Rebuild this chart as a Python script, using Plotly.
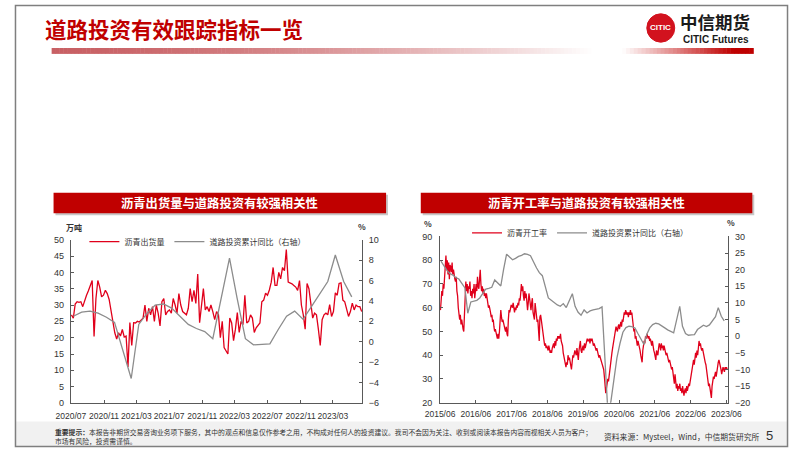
import plotly.graph_objects as go
import pandas as pd

W, H = 802, 452
def px(x): return x / W
def py(y): return 1 - y / H

RED = "#e0001b"
GRAY = "#8c8c8c"
TITLE_RED = "#c00000"
FONT = "Liberation Sans, Noto Sans CJK SC, sans-serif"
CJK = "Noto Sans CJK SC, Liberation Sans, sans-serif"

# ---------------- Left chart data ----------------
ship_start = "2020-07-03"   # weekly asphalt shipments (万吨)
ship_vals = [27, 26, 30.3, 31, 30.8, 31, 29.5, 31.5, 33, 34.4,
             36, 37.5, 20.4, 32, 37.5, 35.5, 32.5, 33, 34.5, 33.5,
             31.7, 28, 25, 21.5, 19.6, 21.5, 20.5, 22.5, 20.2, 20.5,
             11, 24.6, 17.6, 24.6, 24.5, 25, 24.8, 25.5, 26, 30,
             25, 29, 27, 29.5, 25, 30, 27.5, 23.6, 31, 32,
             27, 28, 28.5, 27.5, 32, 30, 27.5, 33.5, 30, 28,
             27.5, 27, 29, 35, 31, 34.5, 30.5, 39.5, 24.6, 30,
             35, 28.5, 29.5, 28, 30, 28, 25.5, 28, 27, 20,
             25, 17, 16, 15, 26, 24.5, 19.1, 22.6, 27.7, 21.6,
             25, 24, 33, 24.5, 25, 27, 26, 21.6, 23, 23.6,
             24.5, 31, 31.5, 33.6, 33, 34.6, 37, 41.5, 36, 36,
             40, 38, 41.5, 40.5, 47, 37, 36.8, 36.5, 36, 35.5,
             34.5, 37.5, 30, 27, 22.6, 36.6, 35, 30, 26, 27.5,
             27, 22.6, 17.6, 25.5, 27, 27.5, 27, 30.1, 26.5, 28,
             33.7, 33, 36.6, 36.8, 31.5, 31, 29, 26.5, 28, 30.6,
             28.5, 30, 29.5, 29.5, 28]

road_l_months = ["2020-07", "2020-08", "2020-09", "2020-10", "2020-11", "2020-12",
                 "2021-02", "2021-03", "2021-04", "2021-05", "2021-06", "2021-07",
                 "2021-08", "2021-09", "2021-10", "2021-11", "2021-12",
                 "2022-02", "2022-03", "2022-04", "2022-05", "2022-06", "2022-07",
                 "2022-08", "2022-09", "2022-10", "2022-11", "2022-12",
                 "2023-02", "2023-03", "2023-04", "2023-05"]
road_l_vals = [2.5, 2.9, 3.0, 2.8, 2.4, 1.9,
               -3.6, 1.7, 2.8, 3.6, 3.7, 3.3,
               2.5, 1.7, 1.3, 1.0, 0.3,
               8.2, 4.3, 0.3, -0.3, -0.25, -0.2,
               1.2, 2.5, 3.0, 2.2, 3.4,
               5.9, 8.5, 5.9, 4.4]

left_ticks_y = list(range(0, 51, 5))
left_ticks_y2 = list(range(-6, 11, 2))

# ---------------- Right chart data ----------------
rate_start = "2015-06-05"   # weekly asphalt operating rate (%)
rate_2015 = [59, 64, 67, 65, 70, 68, 75, 78, 82, 76, 80, 74, 79,
             72, 78, 77, 75, 79, 74, 76, 73, 72, 71, 73, 67, 65,
             60, 58, 55, 57, 53, 55, 52, 51, 50, 60, 64, 71, 67,
             70, 66, 69, 68, 71, 65, 67, 64, 68, 66, 70, 64, 69]
rate_2016 = [70, 67, 73, 69, 68, 72, 76, 70, 67, 69, 66, 68, 65,
             66, 64, 66, 63, 62, 60, 61, 58, 58, 56, 57, 54, 55,
             52, 50, 51, 49, 48, 47, 49, 47, 50, 55, 59, 56, 54,
             55, 53, 52, 51, 50, 52, 49, 48, 55, 59, 58, 60, 61]
rate_2017 = [61, 60, 62, 59, 58, 60, 59, 61, 60, 62, 61, 64, 63,
             66, 70, 67, 69, 65, 63, 67, 64, 66, 63, 59, 62, 66,
             64, 60, 59, 62, 64, 58, 56, 55, 62, 60, 57, 54, 55,
             48, 46, 56, 57, 55, 52, 50, 48, 46, 44, 45, 43, 44]
rate_2018 = [43, 42, 44, 42, 41, 42, 41, 43, 44, 45, 43, 46, 44,
             47, 46, 48, 47, 48, 47, 49, 46, 45, 44, 41, 39, 38,
             36, 35, 37, 36, 40, 38, 39, 37, 36, 34, 37, 40, 39,
             40, 42, 41, 40, 43, 41, 38, 42, 45, 46, 42, 41, 43]
rate_2019 = [44, 42, 45, 43, 44, 45, 47, 46, 46, 47, 45, 47, 46,
             47, 46, 44, 45, 44, 43, 42, 43, 41, 40, 39, 40, 38,
             38, 37, 36, 35, 34, 31, 27, 24, 26, 28, 30, 29, 32,
             34, 37, 39, 41, 43, 45, 47, 49, 50, 52, 51, 50, 52]
rate_2020 = [53, 51, 52, 54, 52, 55, 54, 57, 58, 57, 59, 58, 57,
             58, 56, 58, 57, 59, 57, 58, 55, 52, 50, 51, 47, 48,
             46, 44, 46, 45, 43, 42, 40, 39, 37, 42, 44, 46, 45,
             48, 47, 49, 48, 47, 48, 46, 47, 45, 44, 46, 43, 42]
rate_2021 = [41, 40, 38, 42, 41, 40, 43, 45, 44, 42, 45, 43, 44,
             42, 44, 43, 41, 40, 41, 39, 38, 37, 38, 36, 35, 34,
             35, 32, 30, 28, 32, 27, 26, 28, 25, 27, 26, 28, 25,
             26, 24, 27, 25, 23, 25, 26, 24, 27, 25, 26, 28, 27]
rate_2022 = [29, 32, 34, 36, 37, 38, 36, 39, 41, 39, 42, 40, 44,
             46, 44, 45, 43, 42, 43, 41, 40, 38, 37, 36, 33, 31,
             29, 27, 28, 26, 24, 22, 27, 30, 31, 30, 32, 33, 31,
             34, 35, 37, 38, 37, 36, 34, 32, 33, 35, 34, 33, 35,
             34, 35, 34]
rate_vals = (rate_2015 + rate_2016 + rate_2017 + rate_2018 +
             rate_2019 + rate_2020 + rate_2021 + rate_2022)

road_r_months = ["2015-06", "2015-07", "2015-08", "2015-09", "2015-10", "2015-11", "2015-12",
                 "2016-02", "2016-03", "2016-04", "2016-05", "2016-06", "2016-07", "2016-08",
                 "2016-09", "2016-10", "2016-11", "2016-12",
                 "2017-02", "2017-03", "2017-04", "2017-05", "2017-06", "2017-07", "2017-08",
                 "2017-09", "2017-10", "2017-11", "2017-12",
                 "2018-02", "2018-03", "2018-04", "2018-05", "2018-06", "2018-07", "2018-08",
                 "2018-09", "2018-10", "2018-11", "2018-12",
                 "2019-02", "2019-03", "2019-04", "2019-05", "2019-06", "2019-07", "2019-08",
                 "2019-09", "2019-10", "2019-11", "2019-12",
                 "2020-02", "2020-03", "2020-04", "2020-05", "2020-06", "2020-07", "2020-08",
                 "2020-09", "2020-10", "2020-11", "2020-12",
                 "2021-02", "2021-03", "2021-04", "2021-05", "2021-06", "2021-07", "2021-08",
                 "2021-09", "2021-10", "2021-11", "2021-12",
                 "2022-02", "2022-03", "2022-04", "2022-05", "2022-06", "2022-07", "2022-08",
                 "2022-09", "2022-10", "2022-11", "2022-12",
                 "2023-02", "2023-03", "2023-04", "2023-05"]
road_r_vals = [22.6, 21.2, 19.8, 18.8, 18.4, 17.6, 17.2,
               14.5, 6.9, 10.3, 10.5, 10.8, 11.5, 13.0,
               14.2, 14.4, 14.7, 16.9,
               15.1, 20.0, 24.7, 23.8, 23.0, 23.4, 24.0,
               24.3, 24.8, 24.6, 24.2,
               20.5, 19.1, 18.2, 14.5, 11.5, 10.8, 10.0,
               9.4, 9.0, 9.8, 8.6,
               12.8, 9.0, 7.2, 6.3, 7.9, 7.0, 7.6,
               7.9, 8.0, 8.3, 8.8,
               -24.0, -19.5, -12.5, -6.5, -2.2, 1.2, 2.6,
               3.0, 2.9, 2.5, 0.8,
               -2.5, 0.5, 2.5, 3.5, 3.9, 3.7, 3.2,
               2.5, 1.9, 1.4, 1.0,
               9.0, 3.0, 0.8, 0.3, 0.4, 0.5, 2.0,
               2.8, 3.3, 2.9, 3.4,
               5.9, 8.6, 6.0, 4.6]

right_ticks_y = list(range(20, 91, 10))
right_ticks_y2 = list(range(-20, 31, 5))

# ---------------- build dates ----------------
ship_dates = pd.date_range(ship_start, periods=len(ship_vals), freq="7D")
rate_dates = pd.date_range(rate_start, periods=len(rate_vals), freq="7D")
road_l_dates = [m + "-10" for m in road_l_months]
road_r_dates = [m + "-10" for m in road_r_months]

fig = go.Figure()
fig.add_trace(go.Scatter(x=ship_dates, y=ship_vals, name="沥青出货量", mode="lines",
                         line=dict(color=RED, width=1.3), xaxis="x", yaxis="y", legend="legend"))
fig.add_trace(go.Scatter(x=road_l_dates, y=road_l_vals, name="道路投资累计同比（右轴）", mode="lines",
                         line=dict(color=GRAY, width=1.3), xaxis="x", yaxis="y2", legend="legend"))
fig.add_trace(go.Scatter(x=rate_dates, y=rate_vals, name="沥青开工率", mode="lines",
                         line=dict(color=RED, width=1.3), xaxis="x2", yaxis="y3", legend="legend2"))
fig.add_trace(go.Scatter(x=road_r_dates, y=road_r_vals, name="道路投资累计同比（右轴）", mode="lines",
                         line=dict(color=GRAY, width=1.3), xaxis="x2", yaxis="y4", legend="legend2"))

axis_common = dict(showline=True, linecolor="#595959", linewidth=1, ticks="inside", ticklen=3,
                   tickcolor="#595959", showgrid=False, zeroline=False,
                   tickfont=dict(family=FONT, size=9, color="#333333"))
xaxis_common = dict(axis_common)
xaxis_common["tickfont"] = dict(family=FONT, size=8.5, color="#333333")

fig.update_layout(
    width=W, height=H, autosize=False,
    margin=dict(l=0, r=0, t=0, b=0),
    paper_bgcolor="white", plot_bgcolor="white",
    font=dict(family=CJK, color="#333333"),
    xaxis=dict(domain=[px(58), px(360)], anchor="y", type="date",
               range=["2020-07-01", "2023-06-17"], tick0="2020-07-01", dtick="M4",
               tickformat="%Y/%m", tickangle=0, ticklabelstandoff=5, **xaxis_common),
    yaxis=dict(domain=[py(407), py(240)], anchor="x", range=[0, 50],
               tickvals=left_ticks_y, ticklabelstandoff=4, **axis_common),
    yaxis2=dict(overlaying="y", side="right", anchor="x", range=[-6, 10],
                tickvals=left_ticks_y2, ticklabelstandoff=4, **axis_common),
    xaxis2=dict(domain=[px(441), px(740)], anchor="y3", type="date",
                range=["2015-06-01", "2023-06-20"], tick0="2015-06-01", dtick="M12",
                tickformat="%Y/%m", tickangle=0, ticklabelstandoff=3, **xaxis_common),
    yaxis3=dict(domain=[py(406.7), py(236.7)], anchor="x2", range=[20, 90],
                tickvals=right_ticks_y, ticklabelstandoff=5, **axis_common),
    yaxis4=dict(overlaying="y3", side="right", anchor="x2", range=[-20, 30],
                tickvals=right_ticks_y2, ticklabelstandoff=4, **axis_common),
    legend=dict(x=px(72), y=py(242), xanchor="left", yanchor="middle", orientation="h",
                font=dict(family=CJK, size=8, color="#333333"), bgcolor="rgba(0,0,0,0)",
                itemwidth=30),
    legend2=dict(x=px(469), y=py(233), xanchor="left", yanchor="middle", orientation="h",
                 font=dict(family=CJK, size=8, color="#333333"), bgcolor="rgba(0,0,0,0)",
                 itemwidth=30),
    showlegend=True,
)

shapes = []
annotations = []

# slide border
shapes.append(dict(type="rect", xref="paper", yref="paper", x0=px(0.5), x1=px(801.5),
                   y0=py(451.5), y1=py(0.5), line=dict(color="#7f7f7f", width=1.5)))
# footer band
shapes.append(dict(type="rect", xref="paper", yref="paper", x0=px(1), x1=px(801),
                   y0=py(451), y1=py(426), fillcolor="#f1f1f1", line=dict(width=0), layer="below"))

# gradient header bar
def lerp(a, b, t):
    return tuple(int(round(a[i] + (b[i] - a[i]) * t)) for i in range(3))
x = 38
step = 4
while x < 763:
    xm = x + step / 2
    if xm < 600:
        t = max(0.0, (xm - 38) / (600 - 38))
        c = lerp((200, 96, 100), (255, 255, 255), t ** 1.6)
    else:
        t = min(1.0, max(0.0, (xm - 630) / (745 - 630)))
        c = lerp((255, 255, 255), (190, 0, 0), t)
    shapes.append(dict(type="rect", xref="paper", yref="paper", x0=px(x), x1=px(x + step + 0.5),
                       y0=py(50), y1=py(44), fillcolor="rgb(%d,%d,%d)" % c, line=dict(width=0)))
    x += step

# chart title bars with shadow
for (x0, x1, txt) in [(40, 385, "沥青出货量与道路投资有较强相关性"),
                      (421, 765, "沥青开工率与道路投资有较强相关性")]:
    shapes.append(dict(type="rect", xref="paper", yref="paper", x0=px(x0 + 2), x1=px(x1 + 2),
                       y0=py(215), y1=py(194), fillcolor="#c8c8c8", line=dict(width=0)))
    shapes.append(dict(type="rect", xref="paper", yref="paper", x0=px(x0), x1=px(x1),
                       y0=py(213), y1=py(192), fillcolor=TITLE_RED, line=dict(width=0)))
    annotations.append(dict(xref="paper", yref="paper", x=px((x0 + x1) / 2), y=py(202.5),
                            text="<b>%s</b>" % txt, showarrow=False, xanchor="center", yanchor="middle",
                            font=dict(family=CJK, size=12.3, color="white")))

# logo circle
shapes.append(dict(type="circle", xref="paper", yref="paper", x0=px(655.5), x1=px(684.5),
                   y0=py(38), y1=py(9), fillcolor="#d2121e", line=dict(color="#d2121e", width=1)))
annotations.append(dict(xref="paper", yref="paper", x=px(670), y=py(23.5), text="<b>CITIC</b>",
                        showarrow=False, xanchor="center", yanchor="middle",
                        font=dict(family="Liberation Sans Narrow, Liberation Sans", size=8, color="white")))
annotations.append(dict(xref="paper", yref="paper", x=px(688), y=py(17), text="<b>中信期货</b>",
                        showarrow=False, xanchor="left", yanchor="middle",
                        font=dict(family=CJK, size=17.5, color="#1a1a1a")))
annotations.append(dict(xref="paper", yref="paper", x=px(691), y=py(35.5), text="<b>CITIC Futures</b>",
                        showarrow=False, xanchor="left", yanchor="middle",
                        font=dict(family="Liberation Sans Narrow, Liberation Sans", size=10, color="#1a1a1a")))

# main title
annotations.append(dict(xref="paper", yref="paper", x=px(29), y=py(24), text="<b>道路投资有效跟踪指标一览</b>",
                        showarrow=False, xanchor="left", yanchor="middle",
                        font=dict(family=CJK, size=21.5, color=TITLE_RED)))

# axis unit labels
for (xx, yy, txt, anc) in [(61, 228, "万吨", "center"), (360, 226, "%", "center"),
                           (428, 223, "%", "center"), (743, 222, "%", "center")]:
    annotations.append(dict(xref="paper", yref="paper", x=px(xx), y=py(yy), text="<b>%s</b>" % txt,
                            showarrow=False, xanchor=anc, yanchor="middle",
                            font=dict(family=CJK, size=8, color="#333333")))

# footer texts
annotations.append(dict(xref="paper", yref="paper", x=px(39), y=py(437),
                        text="<b>重要提示：</b>本报告非期货交易咨询业务项下服务，其中的观点和信息仅作参考之用，不构成对任何人的投资建议。我司不会因为关注、收到或阅读本报告内容而视相关人员为客户；",
                        showarrow=False, xanchor="left", yanchor="middle",
                        font=dict(family=CJK, size=6.8, color="#333333")))
annotations.append(dict(xref="paper", yref="paper", x=px(39), y=py(446), text="市场有风险，投资需谨慎。",
                        showarrow=False, xanchor="left", yanchor="middle",
                        font=dict(family=CJK, size=6.8, color="#333333")))
annotations.append(dict(xref="paper", yref="paper", x=px(609), y=py(441.5),
                        text="资料来源：Mysteel，Wind，中信期货研究所",
                        showarrow=False, xanchor="left", yanchor="middle",
                        font=dict(family=CJK, size=7.8, color="#333333")))
annotations.append(dict(xref="paper", yref="paper", x=px(783), y=py(440.5), text="5",
                        showarrow=False, xanchor="center", yanchor="middle",
                        font=dict(family=FONT, size=13, color="#333333")))

fig.update_layout(shapes=shapes, annotations=annotations)
fig.write_html("out.html")
